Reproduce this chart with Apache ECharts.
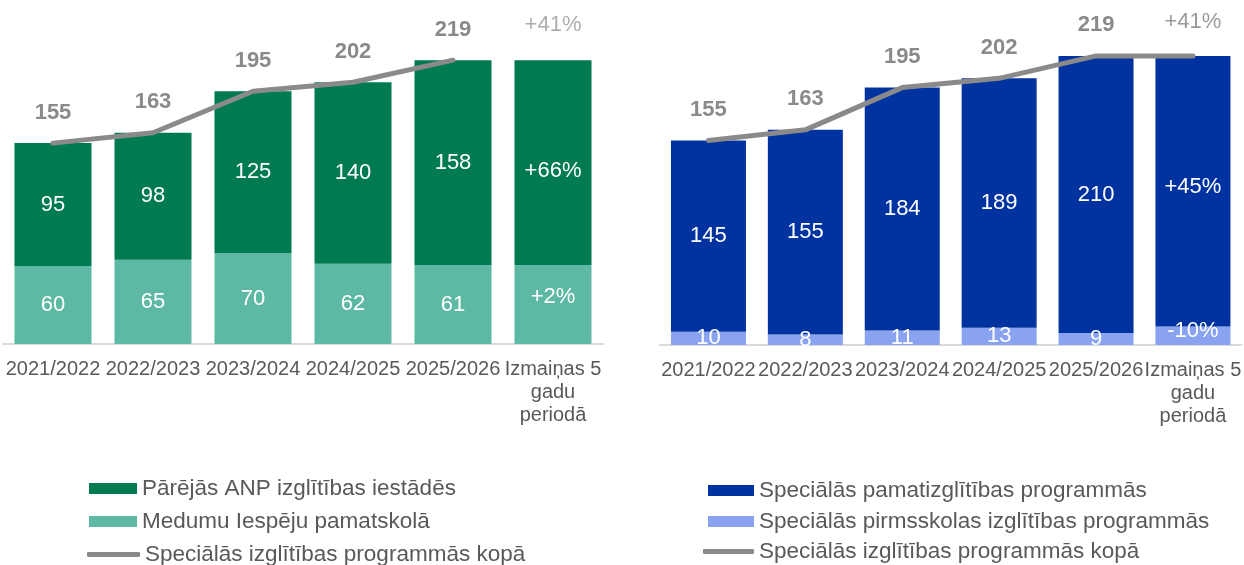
<!DOCTYPE html>
<html>
<head>
<meta charset="utf-8">
<script src="https://cdn.jsdelivr.net/npm/echarts@6/dist/echarts.min.js"></script>
<style>
html,body{margin:0;padding:0;background:#fff;}
#c{width:1244px;height:565px;}
</style>
</head>
<body>
<div id="c"></div>
<script>
// ---- data ----
const categories = ['2021/2022','2022/2023','2023/2024','2024/2025','2025/2026','Izmaiņas 5\ngadu\nperiodā'];

// left chart
const leftOther = [95, 98, 125, 140, 158, 158];
const leftOtherLabels = ['95','98','125','140','158','+66%'];
const leftMedumu = [60, 65, 70, 62, 61, 61];
const leftMedumuLabels = ['60','65','70','62','61','+2%'];
const leftTotal = [155, 163, 195, 202, 219, '-'];
const leftChange = ['-', '-', '-', '-', '-', 219];
const leftChangeLabel = '+41%';

// right chart
const rightPamat = [145, 155, 184, 189, 210, 205];
const rightPamatLabels = ['145','155','184','189','210','+45%'];
const rightPirms = [10, 8, 11, 13, 9, 14];
const rightPirmsLabels = ['10','8','11','13','9','-10%'];
const rightTotal = [155, 163, 195, 202, 219, 219];
const rightTotalLabels = ['155','163','195','202','219','+41%'];

const legendLeft = ['Pārējās ANP izglītības iestādēs','Medumu Iespēju pamatskolā','Speciālās izglītības programmās kopā'];
const legendRight = ['Speciālās pamatizglītības programmās','Speciālās pirmsskolas izglītības programmās','Speciālās izglītības programmās kopā '];

// ---- styles ----
const FONT = 'Liberation Sans, Arial, sans-serif';
const C_DG = '#007A52', C_LG = '#5DB9A3', C_DB = '#0033A0', C_LB = '#8AA3F1', C_LINE = '#8A8A8A';
const TXT = '#595959';
const LFS = 22.5;

function barLabel(labels){
  return {
    show: true, position: 'inside', color: '#fff', fontSize: 22, fontFamily: FONT,
    formatter: p => labels[p.dataIndex]
  };
}
function withOffsets(vals, offsets){
  return vals.map((v,i)=> offsets[i] ? {value: v, label:{offset:[0,offsets[i]]}} : v);
}
function leg(name, left, top, icon, w, h){
  return {data:[{name:name, icon:icon}], left:left, top:top, orient:'vertical',
    itemWidth:w, itemHeight:h, textStyle:{color:TXT, fontSize:LFS, fontFamily:FONT}};
}

const axisCommon = {
  type: 'category', data: categories,
  axisTick: {show:false},
  axisLine: {lineStyle:{color:'#D9D9D9', width:2}},
  axisLabel: {color: TXT, fontSize: 20, fontFamily: FONT, lineHeight: 23, margin: 14, interval: 0}
};

const option = {
  animation: false,
  textStyle: {fontFamily: FONT},
  grid: [
    {left: 3, width: 600, top: 20, height: 324},
    {left: 660, width: 585, top: 15, height: 330}
  ],
  xAxis: [
    Object.assign({gridIndex:0}, axisCommon),
    Object.assign({gridIndex:1}, axisCommon)
  ],
  yAxis: [
    {gridIndex:0, type:'value', min:0, max:250, show:false},
    {gridIndex:1, type:'value', min:0, max:250, show:false}
  ],
  legend: [
    leg(legendLeft[0], 84, 472, 'rect', 48, 11),
    leg(legendLeft[1], 84, 505, 'rect', 48, 11),
    leg(legendLeft[2], 82, 538, 'roundRect', 53, 5),
    leg(legendRight[0], 703, 474, 'rect', 46, 11),
    leg(legendRight[1], 703, 505, 'rect', 46, 11),
    leg(legendRight[2], 698, 535, 'roundRect', 51, 5)
  ],
  series: [
    {name: legendLeft[1], type:'bar', stack:'L', xAxisIndex:0, yAxisIndex:0, barWidth: 77,
     itemStyle:{color:C_LG}, data: withOffsets(leftMedumu, [0,0,0,0,0,-8]), label: barLabel(leftMedumuLabels)},
    {name: legendLeft[0], type:'bar', stack:'L', xAxisIndex:0, yAxisIndex:0, barWidth: 77,
     itemStyle:{color:C_DG}, data: withOffsets(leftOther, [0,0,0,0,0,8]), label: barLabel(leftOtherLabels)},
    {name: legendLeft[2], type:'line', xAxisIndex:0, yAxisIndex:0, data: leftTotal,
     symbol:'circle', symbolSize:1, showSymbol:true, lineStyle:{color:C_LINE, width:5, cap:'round', join:'round'}, itemStyle:{color:C_LINE},
     label:{show:true, position:'top', distance:19, color:C_LINE, fontSize:22, fontWeight:'bold', fontFamily:FONT}},
    {name: 'leftChange', type:'scatter', xAxisIndex:0, yAxisIndex:0, data: leftChange, symbolSize: 1,
     itemStyle:{color:'rgba(0,0,0,0)'},
     label:{show:true, position:'top', distance:24, color:'#999999', fontSize:22, fontFamily:FONT, formatter: () => leftChangeLabel}},

    {name: legendRight[1], type:'bar', stack:'R', xAxisIndex:1, yAxisIndex:1, barWidth: 75,
     itemStyle:{color:C_LB}, data: withOffsets(rightPirms, [0,0,0,0,0,-5]), label: barLabel(rightPirmsLabels)},
    {name: legendRight[0], type:'bar', stack:'R', xAxisIndex:1, yAxisIndex:1, barWidth: 75,
     itemStyle:{color:C_DB}, data: withOffsets(rightPamat, [0,0,0,0,0,-4]), label: barLabel(rightPamatLabels)},
    {name: legendRight[2], type:'line', xAxisIndex:1, yAxisIndex:1, data: rightTotal,
     symbol:'circle', symbolSize:1, showSymbol:true, lineStyle:{color:C_LINE, width:5, cap:'round', join:'round'}, itemStyle:{color:C_LINE},
     label:{show:true, position:'top', distance:19, fontFamily:FONT,
       formatter: p => p.dataIndex === 5 ? '{n|' + rightTotalLabels[p.dataIndex] + '}' : '{b|' + rightTotalLabels[p.dataIndex] + '}',
       rich:{
         b:{color:C_LINE, fontSize:22, fontWeight:'bold', fontFamily:FONT},
         n:{color:'#999999', fontSize:22, fontFamily:FONT, padding:[0,0,3,0]}
       }}}
  ]
};

const chart = echarts.init(document.getElementById('c'), null, {renderer:'canvas'});
chart.setOption(option);
</script>
</body>
</html>
